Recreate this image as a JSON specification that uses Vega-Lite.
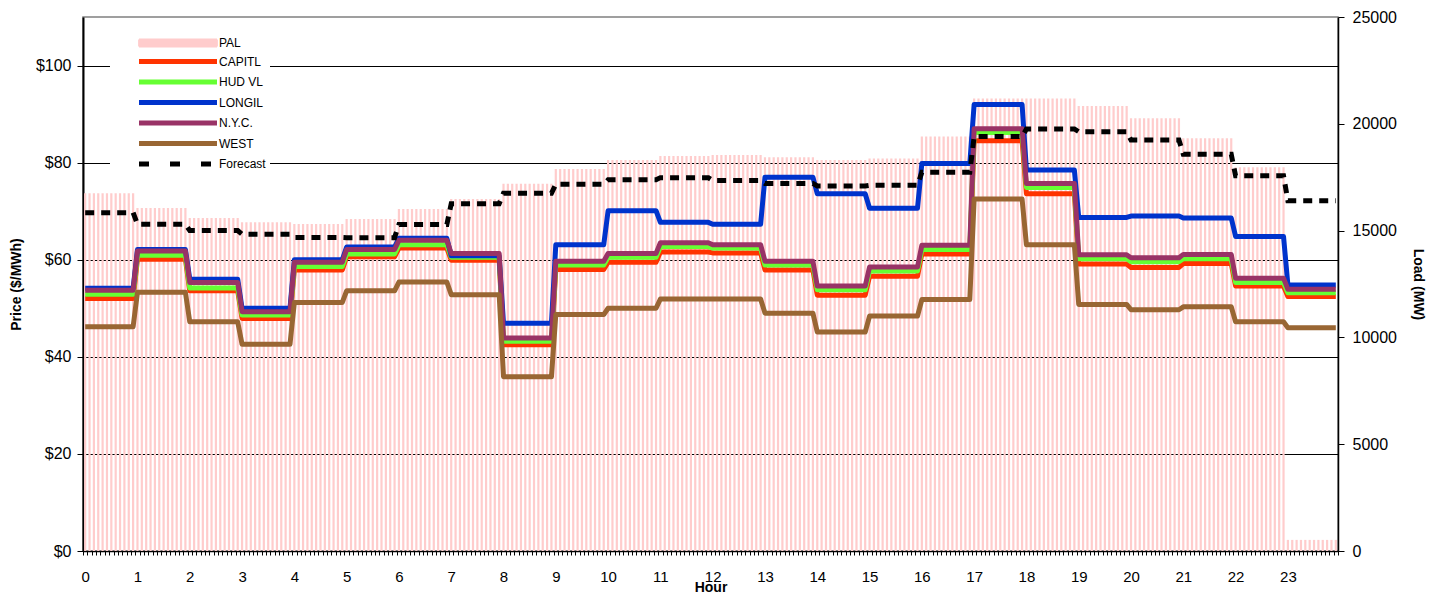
{
  "$schema": "https://vega.github.io/schema/vega-lite/v6.json",
  "width": 1255,
  "height": 534,
  "autosize": {"type": "none"},
  "padding": {"left": 83, "top": 17, "right": 102, "bottom": 44},
  "background": "white",
  "config": {
    "font": "Liberation Sans",
    "view": {"stroke": "#808080", "strokeWidth": 1.5}
  },
  "datasets": {
    "pal": [
      {"i":0,"PAL":16750},{"i":1,"PAL":16750},{"i":2,"PAL":16750},{"i":3,"PAL":16750},{"i":4,"PAL":16750},{"i":5,"PAL":16750},{"i":6,"PAL":16750},{"i":7,"PAL":16750},{"i":8,"PAL":16750},{"i":9,"PAL":16750},{"i":10,"PAL":16750},{"i":11,"PAL":16750},
      {"i":12,"PAL":16060},{"i":13,"PAL":16060},{"i":14,"PAL":16060},{"i":15,"PAL":16060},{"i":16,"PAL":16060},{"i":17,"PAL":16060},{"i":18,"PAL":16060},{"i":19,"PAL":16060},{"i":20,"PAL":16060},{"i":21,"PAL":16060},{"i":22,"PAL":16060},{"i":23,"PAL":16060},
      {"i":24,"PAL":15590},{"i":25,"PAL":15590},{"i":26,"PAL":15590},{"i":27,"PAL":15590},{"i":28,"PAL":15590},{"i":29,"PAL":15590},{"i":30,"PAL":15590},{"i":31,"PAL":15590},{"i":32,"PAL":15590},{"i":33,"PAL":15590},{"i":34,"PAL":15590},{"i":35,"PAL":15590},
      {"i":36,"PAL":15390},{"i":37,"PAL":15390},{"i":38,"PAL":15390},{"i":39,"PAL":15390},{"i":40,"PAL":15390},{"i":41,"PAL":15390},{"i":42,"PAL":15390},{"i":43,"PAL":15390},{"i":44,"PAL":15390},{"i":45,"PAL":15390},{"i":46,"PAL":15390},{"i":47,"PAL":15390},
      {"i":48,"PAL":15310},{"i":49,"PAL":15310},{"i":50,"PAL":15310},{"i":51,"PAL":15310},{"i":52,"PAL":15310},{"i":53,"PAL":15310},{"i":54,"PAL":15310},{"i":55,"PAL":15310},{"i":56,"PAL":15310},{"i":57,"PAL":15310},{"i":58,"PAL":15310},{"i":59,"PAL":15310},
      {"i":60,"PAL":15540},{"i":61,"PAL":15540},{"i":62,"PAL":15540},{"i":63,"PAL":15540},{"i":64,"PAL":15540},{"i":65,"PAL":15540},{"i":66,"PAL":15540},{"i":67,"PAL":15540},{"i":68,"PAL":15540},{"i":69,"PAL":15540},{"i":70,"PAL":15540},{"i":71,"PAL":15540},
      {"i":72,"PAL":16010},{"i":73,"PAL":16010},{"i":74,"PAL":16010},{"i":75,"PAL":16010},{"i":76,"PAL":16010},{"i":77,"PAL":16010},{"i":78,"PAL":16010},{"i":79,"PAL":16010},{"i":80,"PAL":16010},{"i":81,"PAL":16010},{"i":82,"PAL":16010},{"i":83,"PAL":16010},
      {"i":84,"PAL":16480},{"i":85,"PAL":16480},{"i":86,"PAL":16480},{"i":87,"PAL":16480},{"i":88,"PAL":16480},{"i":89,"PAL":16480},{"i":90,"PAL":16480},{"i":91,"PAL":16480},{"i":92,"PAL":16480},{"i":93,"PAL":16480},{"i":94,"PAL":16480},{"i":95,"PAL":16480},
      {"i":96,"PAL":17190},{"i":97,"PAL":17190},{"i":98,"PAL":17190},{"i":99,"PAL":17190},{"i":100,"PAL":17190},{"i":101,"PAL":17190},{"i":102,"PAL":17190},{"i":103,"PAL":17190},{"i":104,"PAL":17190},{"i":105,"PAL":17190},{"i":106,"PAL":17190},{"i":107,"PAL":17190},
      {"i":108,"PAL":17880},{"i":109,"PAL":17880},{"i":110,"PAL":17880},{"i":111,"PAL":17880},{"i":112,"PAL":17880},{"i":113,"PAL":17880},{"i":114,"PAL":17880},{"i":115,"PAL":17880},{"i":116,"PAL":17880},{"i":117,"PAL":17880},{"i":118,"PAL":17880},{"i":119,"PAL":17880},
      {"i":120,"PAL":18300},{"i":121,"PAL":18300},{"i":122,"PAL":18300},{"i":123,"PAL":18300},{"i":124,"PAL":18300},{"i":125,"PAL":18300},{"i":126,"PAL":18300},{"i":127,"PAL":18300},{"i":128,"PAL":18300},{"i":129,"PAL":18300},{"i":130,"PAL":18300},{"i":131,"PAL":18300},
      {"i":132,"PAL":18490},{"i":133,"PAL":18490},{"i":134,"PAL":18490},{"i":135,"PAL":18490},{"i":136,"PAL":18490},{"i":137,"PAL":18490},{"i":138,"PAL":18490},{"i":139,"PAL":18490},{"i":140,"PAL":18490},{"i":141,"PAL":18490},{"i":142,"PAL":18490},{"i":143,"PAL":18490},
      {"i":144,"PAL":18540},{"i":145,"PAL":18540},{"i":146,"PAL":18540},{"i":147,"PAL":18540},{"i":148,"PAL":18540},{"i":149,"PAL":18540},{"i":150,"PAL":18540},{"i":151,"PAL":18540},{"i":152,"PAL":18540},{"i":153,"PAL":18540},{"i":154,"PAL":18540},{"i":155,"PAL":18540},
      {"i":156,"PAL":18430},{"i":157,"PAL":18430},{"i":158,"PAL":18430},{"i":159,"PAL":18430},{"i":160,"PAL":18430},{"i":161,"PAL":18430},{"i":162,"PAL":18430},{"i":163,"PAL":18430},{"i":164,"PAL":18430},{"i":165,"PAL":18430},{"i":166,"PAL":18430},{"i":167,"PAL":18430},
      {"i":168,"PAL":18300},{"i":169,"PAL":18300},{"i":170,"PAL":18300},{"i":171,"PAL":18300},{"i":172,"PAL":18300},{"i":173,"PAL":18300},{"i":174,"PAL":18300},{"i":175,"PAL":18300},{"i":176,"PAL":18300},{"i":177,"PAL":18300},{"i":178,"PAL":18300},{"i":179,"PAL":18300},
      {"i":180,"PAL":18380},{"i":181,"PAL":18380},{"i":182,"PAL":18380},{"i":183,"PAL":18380},{"i":184,"PAL":18380},{"i":185,"PAL":18380},{"i":186,"PAL":18380},{"i":187,"PAL":18380},{"i":188,"PAL":18380},{"i":189,"PAL":18380},{"i":190,"PAL":18380},{"i":191,"PAL":18380},
      {"i":192,"PAL":19400},{"i":193,"PAL":19400},{"i":194,"PAL":19400},{"i":195,"PAL":19400},{"i":196,"PAL":19400},{"i":197,"PAL":19400},{"i":198,"PAL":19400},{"i":199,"PAL":19400},{"i":200,"PAL":19400},{"i":201,"PAL":19400},{"i":202,"PAL":19400},{"i":203,"PAL":19400},
      {"i":204,"PAL":21190},{"i":205,"PAL":21190},{"i":206,"PAL":21190},{"i":207,"PAL":21190},{"i":208,"PAL":21190},{"i":209,"PAL":21190},{"i":210,"PAL":21190},{"i":211,"PAL":21190},{"i":212,"PAL":21190},{"i":213,"PAL":21190},{"i":214,"PAL":21190},{"i":215,"PAL":21190},
      {"i":216,"PAL":21190},{"i":217,"PAL":21190},{"i":218,"PAL":21190},{"i":219,"PAL":21190},{"i":220,"PAL":21190},{"i":221,"PAL":21190},{"i":222,"PAL":21190},{"i":223,"PAL":21190},{"i":224,"PAL":21190},{"i":225,"PAL":21190},{"i":226,"PAL":21190},{"i":227,"PAL":21190},
      {"i":228,"PAL":20830},{"i":229,"PAL":20830},{"i":230,"PAL":20830},{"i":231,"PAL":20830},{"i":232,"PAL":20830},{"i":233,"PAL":20830},{"i":234,"PAL":20830},{"i":235,"PAL":20830},{"i":236,"PAL":20830},{"i":237,"PAL":20830},{"i":238,"PAL":20830},{"i":239,"PAL":20830},
      {"i":240,"PAL":20260},{"i":241,"PAL":20260},{"i":242,"PAL":20260},{"i":243,"PAL":20260},{"i":244,"PAL":20260},{"i":245,"PAL":20260},{"i":246,"PAL":20260},{"i":247,"PAL":20260},{"i":248,"PAL":20260},{"i":249,"PAL":20260},{"i":250,"PAL":20260},{"i":251,"PAL":20260},
      {"i":252,"PAL":19320},{"i":253,"PAL":19320},{"i":254,"PAL":19320},{"i":255,"PAL":19320},{"i":256,"PAL":19320},{"i":257,"PAL":19320},{"i":258,"PAL":19320},{"i":259,"PAL":19320},{"i":260,"PAL":19320},{"i":261,"PAL":19320},{"i":262,"PAL":19320},{"i":263,"PAL":19320},
      {"i":264,"PAL":17960},{"i":265,"PAL":17960},{"i":266,"PAL":17960},{"i":267,"PAL":17960},{"i":268,"PAL":17960},{"i":269,"PAL":17960},{"i":270,"PAL":17960},{"i":271,"PAL":17960},{"i":272,"PAL":17960},{"i":273,"PAL":17960},{"i":274,"PAL":17960},{"i":275,"PAL":17960},
      {"i":276,"PAL":520},{"i":277,"PAL":520},{"i":278,"PAL":520},{"i":279,"PAL":520},{"i":280,"PAL":520},{"i":281,"PAL":520},{"i":282,"PAL":520},{"i":283,"PAL":520},{"i":284,"PAL":520},{"i":285,"PAL":520},{"i":286,"PAL":520},{"i":287,"PAL":520}
    ],
    "hourly": [
      {"i":0,"CAPITL":52.0,"HUDVL":52.9,"LONGIL":54.1,"NYC":53.7,"WEST":46.2,"Forecast":15840},
      {"i":11,"CAPITL":52.0,"HUDVL":52.9,"LONGIL":54.1,"NYC":53.7,"WEST":46.2,"Forecast":15840},
      {"i":12,"CAPITL":60.1,"HUDVL":60.9,"LONGIL":62.1,"NYC":61.8,"WEST":53.3,"Forecast":15300},
      {"i":23,"CAPITL":60.1,"HUDVL":60.9,"LONGIL":62.1,"NYC":61.8,"WEST":53.3,"Forecast":15300},
      {"i":24,"CAPITL":53.6,"HUDVL":54.2,"LONGIL":56.0,"NYC":55.3,"WEST":47.2,"Forecast":15000},
      {"i":35,"CAPITL":53.6,"HUDVL":54.2,"LONGIL":56.0,"NYC":55.3,"WEST":47.2,"Forecast":15000},
      {"i":36,"CAPITL":47.9,"HUDVL":48.6,"LONGIL":50.0,"NYC":49.3,"WEST":42.6,"Forecast":14830},
      {"i":47,"CAPITL":47.9,"HUDVL":48.6,"LONGIL":50.0,"NYC":49.3,"WEST":42.6,"Forecast":14830},
      {"i":48,"CAPITL":57.9,"HUDVL":58.6,"LONGIL":60.0,"NYC":59.5,"WEST":51.2,"Forecast":14680},
      {"i":59,"CAPITL":57.9,"HUDVL":58.6,"LONGIL":60.0,"NYC":59.5,"WEST":51.2,"Forecast":14680},
      {"i":60,"CAPITL":60.6,"HUDVL":61.2,"LONGIL":62.6,"NYC":62.1,"WEST":53.6,"Forecast":14670},
      {"i":71,"CAPITL":60.6,"HUDVL":61.2,"LONGIL":62.6,"NYC":62.1,"WEST":53.6,"Forecast":14670},
      {"i":72,"CAPITL":62.4,"HUDVL":63.1,"LONGIL":64.4,"NYC":64.0,"WEST":55.4,"Forecast":15280},
      {"i":83,"CAPITL":62.4,"HUDVL":63.1,"LONGIL":64.4,"NYC":64.0,"WEST":55.4,"Forecast":15280},
      {"i":84,"CAPITL":59.9,"HUDVL":60.5,"LONGIL":60.8,"NYC":61.3,"WEST":52.8,"Forecast":16260},
      {"i":95,"CAPITL":59.9,"HUDVL":60.5,"LONGIL":60.8,"NYC":61.3,"WEST":52.8,"Forecast":16260},
      {"i":96,"CAPITL":42.5,"HUDVL":43.2,"LONGIL":46.9,"NYC":43.9,"WEST":35.9,"Forecast":16750},
      {"i":107,"CAPITL":42.5,"HUDVL":43.2,"LONGIL":46.9,"NYC":43.9,"WEST":35.9,"Forecast":16750},
      {"i":108,"CAPITL":58.0,"HUDVL":58.9,"LONGIL":63.1,"NYC":59.7,"WEST":48.7,"Forecast":17170},
      {"i":119,"CAPITL":58.0,"HUDVL":58.9,"LONGIL":63.1,"NYC":59.7,"WEST":48.7,"Forecast":17170},
      {"i":120,"CAPITL":59.5,"HUDVL":60.5,"LONGIL":70.1,"NYC":61.3,"WEST":50.0,"Forecast":17380},
      {"i":131,"CAPITL":59.5,"HUDVL":60.5,"LONGIL":70.1,"NYC":61.3,"WEST":50.0,"Forecast":17380},
      {"i":132,"CAPITL":61.6,"HUDVL":62.7,"LONGIL":67.7,"NYC":63.5,"WEST":51.9,"Forecast":17480},
      {"i":143,"CAPITL":61.6,"HUDVL":62.7,"LONGIL":67.7,"NYC":63.5,"WEST":51.9,"Forecast":17480},
      {"i":144,"CAPITL":61.4,"HUDVL":62.4,"LONGIL":67.3,"NYC":63.1,"WEST":51.9,"Forecast":17340},
      {"i":155,"CAPITL":61.4,"HUDVL":62.4,"LONGIL":67.3,"NYC":63.1,"WEST":51.9,"Forecast":17340},
      {"i":156,"CAPITL":57.9,"HUDVL":58.9,"LONGIL":77.0,"NYC":59.7,"WEST":49.0,"Forecast":17210},
      {"i":167,"CAPITL":57.9,"HUDVL":58.9,"LONGIL":77.0,"NYC":59.7,"WEST":49.0,"Forecast":17210},
      {"i":168,"CAPITL":52.7,"HUDVL":53.8,"LONGIL":73.6,"NYC":54.6,"WEST":45.1,"Forecast":17090},
      {"i":179,"CAPITL":52.7,"HUDVL":53.8,"LONGIL":73.6,"NYC":54.6,"WEST":45.1,"Forecast":17090},
      {"i":180,"CAPITL":56.6,"HUDVL":57.7,"LONGIL":70.6,"NYC":58.5,"WEST":48.4,"Forecast":17120},
      {"i":191,"CAPITL":56.6,"HUDVL":57.7,"LONGIL":70.6,"NYC":58.5,"WEST":48.4,"Forecast":17120},
      {"i":192,"CAPITL":61.2,"HUDVL":62.1,"LONGIL":79.8,"NYC":63.0,"WEST":51.8,"Forecast":17730},
      {"i":203,"CAPITL":61.2,"HUDVL":62.1,"LONGIL":79.8,"NYC":63.0,"WEST":51.8,"Forecast":17730},
      {"i":204,"CAPITL":84.5,"HUDVL":86.2,"LONGIL":92.0,"NYC":87.0,"WEST":72.5,"Forecast":19400},
      {"i":215,"CAPITL":84.5,"HUDVL":86.2,"LONGIL":92.0,"NYC":87.0,"WEST":72.5,"Forecast":19400},
      {"i":216,"CAPITL":73.6,"HUDVL":74.9,"LONGIL":78.5,"NYC":75.7,"WEST":63.1,"Forecast":19760},
      {"i":227,"CAPITL":73.6,"HUDVL":74.9,"LONGIL":78.5,"NYC":75.7,"WEST":63.1,"Forecast":19760},
      {"i":228,"CAPITL":59.1,"HUDVL":60.2,"LONGIL":68.7,"NYC":61.0,"WEST":50.8,"Forecast":19630},
      {"i":239,"CAPITL":59.1,"HUDVL":60.2,"LONGIL":68.7,"NYC":61.0,"WEST":50.8,"Forecast":19630},
      {"i":240,"CAPITL":58.4,"HUDVL":59.6,"LONGIL":69.0,"NYC":60.4,"WEST":49.7,"Forecast":19240},
      {"i":251,"CAPITL":58.4,"HUDVL":59.6,"LONGIL":69.0,"NYC":60.4,"WEST":49.7,"Forecast":19240},
      {"i":252,"CAPITL":59.2,"HUDVL":60.2,"LONGIL":68.6,"NYC":61.1,"WEST":50.3,"Forecast":18570},
      {"i":263,"CAPITL":59.2,"HUDVL":60.2,"LONGIL":68.6,"NYC":61.1,"WEST":50.3,"Forecast":18570},
      {"i":264,"CAPITL":54.6,"HUDVL":55.3,"LONGIL":64.8,"NYC":56.2,"WEST":47.2,"Forecast":17570},
      {"i":275,"CAPITL":54.6,"HUDVL":55.3,"LONGIL":64.8,"NYC":56.2,"WEST":47.2,"Forecast":17570},
      {"i":276,"CAPITL":52.4,"HUDVL":53.2,"LONGIL":54.8,"NYC":53.9,"WEST":46.0,"Forecast":16400},
      {"i":287,"CAPITL":52.4,"HUDVL":53.2,"LONGIL":54.8,"NYC":53.9,"WEST":46.0,"Forecast":16400}
    ]
  },
  "layer": [
    {
      "data": {"name": "pal"},
      "mark": {"type": "bar", "size": 2.2, "xOffset": 2.18, "opacity": 1},
      "encoding": {
        "x": {
          "field": "i", "type": "quantitative",
          "scale": {"domain": [0, 288], "nice": false, "zero": false, "padding": 0},
          "axis": {"orient": "bottom", "tickCount": 288, "labels": false, "ticks": true, "tickSize": 4, "tickColor": "black", "tickWidth": 1, "domain": true, "domainColor": "black", "domainWidth": 1.5, "grid": false, "title": null}
        },
        "y": {
          "field": "PAL", "type": "quantitative",
          "scale": {"domain": [0, 25000], "nice": false, "padding": 0},
          "axis": {"orient": "right", "values": [0, 5000, 10000, 15000, 20000, 25000], "format": "d", "title": "Load (MW)", "titleFontSize": 14, "titleFontWeight": "bold", "titleColor": "black", "titlePadding": 14, "labelFontSize": 16, "labelColor": "black", "labelPadding": 8, "tickSize": 6, "tickColor": "black", "domainColor": "black", "domainWidth": 1.5, "grid": false}
        },
        "color": {"datum": "PAL", "type": "nominal"}
      }
    },
    {
      "data": {"name": "hourly"},
      "transform": [{"fold": ["CAPITL", "HUDVL", "LONGIL", "NYC", "WEST"], "as": ["series", "price"]}],
      "mark": {"type": "line", "strokeWidth": 5, "xOffset": 2.18, "strokeJoin": "round"},
      "encoding": {
        "x": {
          "field": "i", "type": "quantitative",
          "axis": {"orient": "bottom", "values": [0.5, 12.5, 24.5, 36.5, 48.5, 60.5, 72.5, 84.5, 96.5, 108.5, 120.5, 132.5, 144.5, 156.5, 168.5, 180.5, 192.5, 204.5, 216.5, 228.5, 240.5, 252.5, 264.5, 276.5], "labelExpr": "floor(datum.value / 12)", "ticks": false, "tickSize": 0, "domain": false, "grid": false, "labelFontSize": 15, "labelColor": "black", "labelPadding": 18, "labelFlush": false, "labelOverlap": false, "title": "Hour", "titleFontSize": 14, "titleFontWeight": "bold", "titleColor": "black", "titlePadding": -4}
        },
        "y": {
          "field": "price", "type": "quantitative",
          "scale": {"domain": [0, 110], "nice": false},
          "axis": {"orient": "left", "values": [0, 20, 40, 60, 80, 100], "labelExpr": "'$' + datum.value", "grid": true, "gridColor": "black", "gridWidth": 1, "gridOpacity": 1, "title": "Price ($/MWh)", "titleFontSize": 14, "titleFontWeight": "bold", "titleColor": "black", "titlePadding": 12, "labelFontSize": 16, "labelColor": "black", "labelPadding": 6, "tickSize": 6, "tickColor": "black", "domainColor": "black", "domainWidth": 2}
        },
        "color": {
          "field": "series", "type": "nominal",
          "scale": {"domain": ["PAL", "CAPITL", "HUDVL", "LONGIL", "NYC", "WEST", "Forecast"], "range": ["#FFCCCC", "#FF3300", "#66FF33", "#0033CC", "#993366", "#996633", "#000000"]},
          "legend": {
            "orient": "none", "legendX": 27, "legendY": 16, "title": null,
            "fillColor": "white", "padding": 4,
            "symbolType": "M0,0H31.2", "symbolSize": 25, "symbolOffset": 19, "labelOffset": 74,
            "symbolOpacity": 1, "symbolStrokeWidth": 5,
            "labelFont": "Liberation Sans", "labelFontSize": 12, "labelColor": "black",
            "rowPadding": 0.5,
            "labelExpr": "(datum.label == 'HUDVL' ? 'HUD VL' : datum.label == 'NYC' ? 'N.Y.C.' : datum.label) + '         '",
            "encode": {
              "symbols": {
                "update": {
                  "shape": {"signal": "datum.value === 'PAL' ? 'M0,-1.4H31.2V1.4H0Z' : 'M0,0H31.2'"},
                  "stroke": {"signal": "datum.value === 'PAL' ? '#FFCCCC' : scale('color', datum.value)"},
                  "strokeWidth": {"signal": "datum.value === 'PAL' ? 1.8 : 5"},
                  "fill": {"signal": "datum.value === 'PAL' ? '#FFCCCC' : 'transparent'"},
                  "strokeDash": {"signal": "datum.value === 'Forecast' ? [10, 21] : [1, 0]"},
                  "opacity": {"value": 1}
                }
              }
            }
          }
        }
      }
    },
    {
      "data": {"name": "hourly"},
      "mark": {"type": "line", "strokeWidth": 5, "strokeDash": [9, 7], "xOffset": 2.18},
      "encoding": {
        "x": {"field": "i", "type": "quantitative", "axis": null},
        "y": {"field": "Forecast", "type": "quantitative", "scale": {"domain": [0, 25000], "nice": false}, "axis": null},
        "color": {"datum": "Forecast", "type": "nominal"}
      }
    }
  ],
  "resolve": {"scale": {"y": "independent"}, "axis": {"x": "independent"}}
}
